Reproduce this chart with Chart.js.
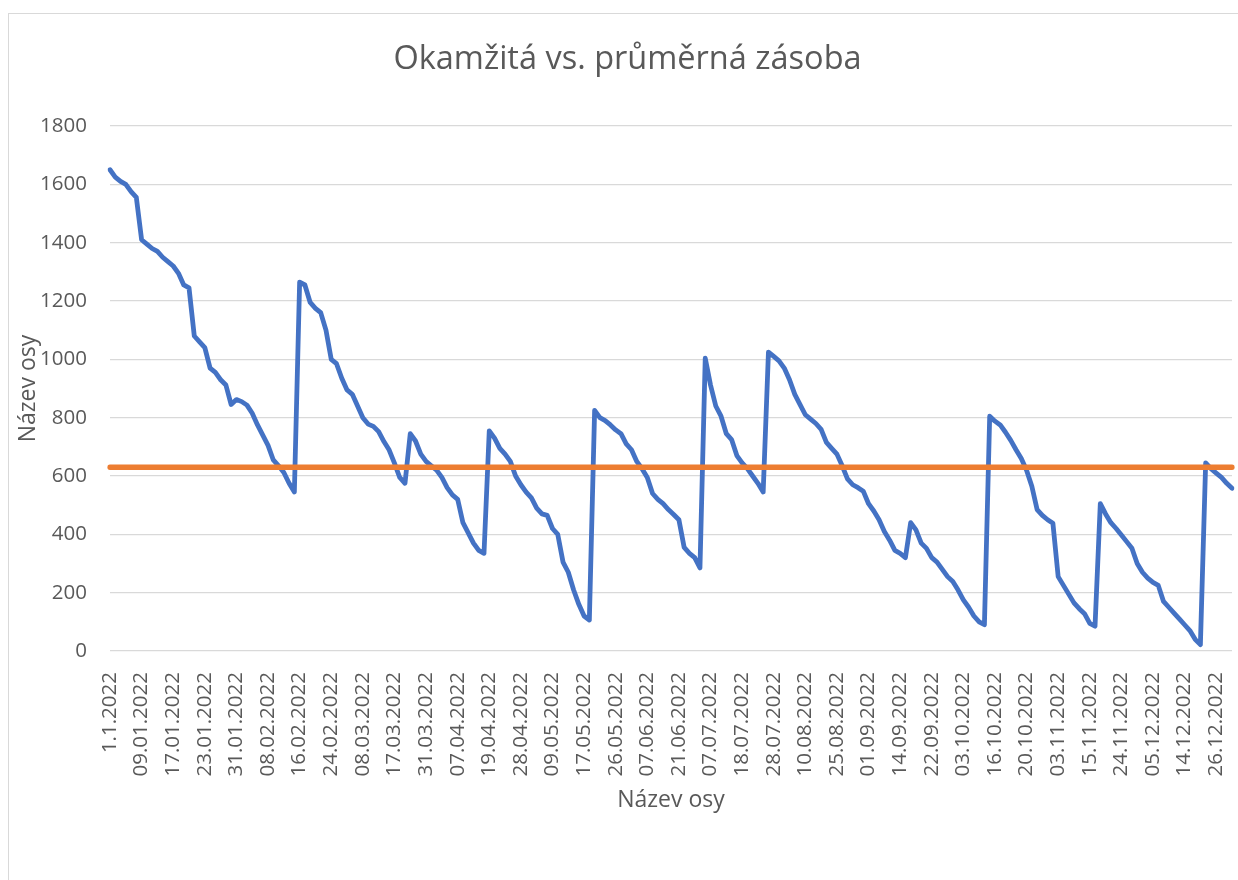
<!DOCTYPE html>
<html>
<head>
<meta charset="utf-8">
<script src="https://cdn.jsdelivr.net/npm/chart.js@4.4.1/dist/chart.umd.min.js"></script>
<style>
  html, body { margin: 0; padding: 0; background: #fff; overflow: hidden; }
  #wrap { position: relative; width: 1238px; height: 880px; overflow: hidden; }
  #frame { position: absolute; left: 8px; top: 13px; width: 1300px; height: 940px; border: 1px solid #d9d9d9; pointer-events: none; }
  canvas { position: absolute; left: 0; top: 0; }
</style>
</head>
<body>
<div id="wrap">
  <canvas id="chart" width="1238" height="880"></canvas>
  <div id="frame"></div>
</div>
<script>
/* ================================================================
   DATA — stock level per transaction day
================================================================ */
const TITLE   = 'Okamžitá vs. průměrná zásoba';
const X_TITLE = 'Název osy';
const Y_TITLE = 'Název osy';

// every 6th category carries a date label
const labelStep = 6;
const tickLabels = [
  '1.1.2022', '09.01.2022', '17.01.2022', '23.01.2022', '31.01.2022', '08.02.2022',
  '16.02.2022', '24.02.2022', '08.03.2022', '17.03.2022', '31.03.2022', '07.04.2022',
  '19.04.2022', '28.04.2022', '09.05.2022', '17.05.2022', '26.05.2022', '07.06.2022',
  '21.06.2022', '07.07.2022', '18.07.2022', '28.07.2022', '10.08.2022', '25.08.2022',
  '01.09.2022', '14.09.2022', '22.09.2022', '03.10.2022', '16.10.2022', '20.10.2022',
  '03.11.2022', '15.11.2022', '24.11.2022', '05.12.2022', '14.12.2022', '26.12.2022'
];

// okamžitá zásoba
const stock = [
  1650, 1625, 1610, 1600, 1575, 1555, 1410, 1395, 1380, 1370,
  1350, 1335, 1320, 1295, 1255, 1245, 1080, 1060, 1040, 970,
  955, 930, 912, 845, 862, 855, 843, 815, 775, 740,
  705, 655, 635, 612, 575, 545, 1265, 1255, 1195, 1175,
  1160, 1100, 1000, 985, 935, 895, 880, 840, 800, 778,
  770, 752, 718, 689, 644, 595, 575, 745, 720, 675,
  650, 635, 620, 595, 560, 535, 520, 440, 405, 370,
  345, 335, 755, 730, 695, 675, 650, 600, 570, 545,
  525, 490, 470, 465, 420, 400, 305, 270, 210, 160,
  120, 106, 825, 800, 790, 775, 758, 745, 710, 690,
  650, 625, 595, 540, 520, 505, 485, 468, 450, 355,
  335, 320, 285, 1004, 912, 840, 805, 745, 725, 670,
  645, 625, 600, 575, 545, 1025, 1010, 995, 970, 930,
  880, 845, 810, 795, 780, 760, 715, 695, 675, 635,
  590, 570, 560, 548, 505, 480, 450, 410, 380, 345,
  335, 320, 440, 415, 370, 352, 320, 305, 280, 255,
  238, 209, 175, 150, 120, 100, 90, 805, 788, 775,
  750, 722, 690, 660, 620, 565, 485, 465, 450, 438,
  255, 225, 195, 165, 145, 128, 95, 85, 505, 470,
  440, 420, 398, 375, 352, 300, 270, 250, 235, 225,
  170, 150, 130, 110, 90, 70, 40, 22, 645, 625,
  610, 595, 575, 558
];

// průměrná zásoba
const average = 630;

const yTicks = { min: 0, max: 1800, step: 200 };

/* ================================================================
   CHART
================================================================ */
const TEXT = '#595959';
const GRID = '#d9d9d9';
const FONT = "'Open Sans', sans-serif";

const categories = stock.map((_, i) => (i % labelStep === 0 ? (tickLabels[i / labelStep] || '') : ''));

new Chart(document.getElementById('chart'), {
  type: 'line',
  data: {
    labels: categories,
    datasets: [
      {
        label: 'Okamžitá zásoba',
        data: stock,
        borderColor: '#4472c4',
        borderWidth: 4.8,
        pointRadius: 0,
        tension: 0,
        borderJoinStyle: 'round',
        borderCapStyle: 'round',
        order: 1
      },
      {
        label: 'Průměrná zásoba',
        data: stock.map(() => average),
        borderColor: '#ed7d31',
        borderWidth: 5.5,
        pointRadius: 0,
        borderCapStyle: 'round',
        order: 0
      }
    ]
  },
  options: {
    responsive: false,
    animation: false,
    layout: { padding: { left: 23, right: 6, top: 0, bottom: 0 } },
    plugins: {
      legend: { display: false },
      tooltip: { enabled: false },
      title: {
        display: true,
        text: TITLE,
        color: TEXT,
        font: { family: FONT, size: 32.5, weight: 'normal', lineHeight: 1.2 },
        padding: { top: 40, bottom: 47 }
      }
    },
    scales: {
      x: {
        grid: { display: false, drawTicks: false },
        border: { display: false },
        ticks: {
          autoSkip: false,
          minRotation: 90,
          maxRotation: 90,
          padding: 21,
          color: TEXT,
          font: { family: FONT, size: 20.5 }
        },
        title: {
          display: true,
          text: X_TITLE,
          color: TEXT,
          font: { family: FONT, size: 23, lineHeight: 1.2 },
          padding: { top: 0, bottom: 66 }
        },
        afterFit: s => { s.height = 229; s.paddingLeft = 0; s.paddingRight = 0; }
      },
      y: {
        min: yTicks.min,
        max: yTicks.max,
        grid: { color: GRID, lineWidth: 1.3, drawTicks: false },
        border: { display: false },
        ticks: {
          stepSize: yTicks.step,
          padding: 23,
          color: TEXT,
          font: { family: FONT, size: 20.5 },
          callback: v => String(v)
        },
        title: {
          display: true,
          text: Y_TITLE,
          color: TEXT,
          font: { family: FONT, size: 23, lineHeight: 1.2 },
          padding: { top: -8, bottom: 0 }
        },
        afterFit: s => { s.width = 87; }
      }
    }
  }
});
</script>
</body>
</html>
